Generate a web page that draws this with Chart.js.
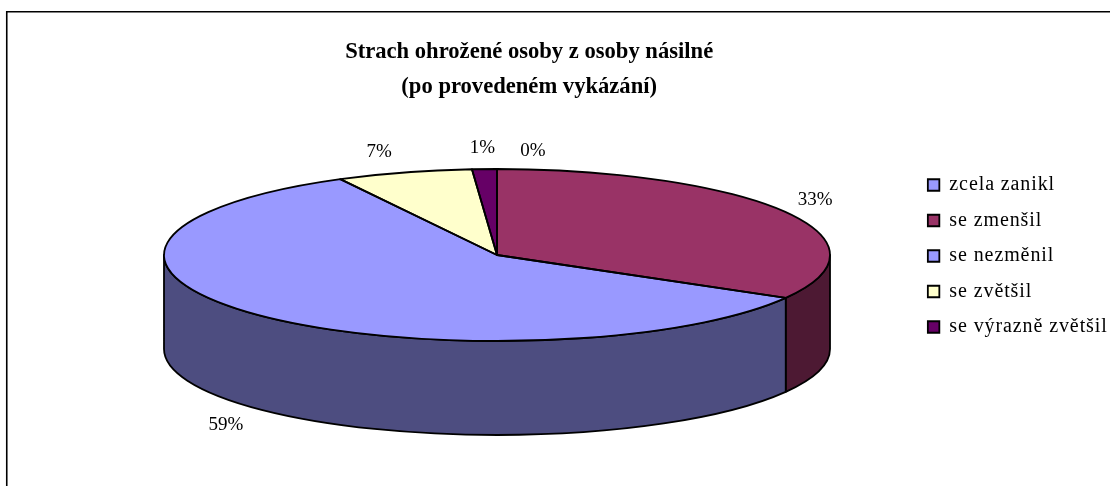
<!DOCTYPE html>
<html><head><meta charset="utf-8">
<style>html,body{margin:0;padding:0;background:#fff;overflow:hidden}canvas{display:block}</style>
<script src="https://cdn.jsdelivr.net/npm/chart.js@4"></script>
</head><body>
<canvas id="c" width="1110" height="486"></canvas>
<script>
const categories = ["zcela zanikl","se zmenšil","se nezměnil","se zvětšil","se výrazně zvětšil"];
const values = [0, 33.3, 58.9, 6.6, 1.2];
const titleLines = ["Strach ohrožené osoby z osoby násilné","(po provedeném vykázání)"];
const topColors = ["#9999FF","#993366","#9999FF","#FFFFCC","#660066"];
const sideColors = ["#4D4D80","#4D1933","#4D4D80","#808066","#330033"];
const labelOffsets = [[36,-18],[30,-12],[-32,16],[-25,-20],[-2,-21]];

const CX=497, CY=255, RX=333, RY=86, DEPTH=94, LW=1.8;
const serif='"Liberation Serif"';

function xf(ctx,a){ ctx.translate(CX,CY); ctx.scale(1,RY/RX); ctx.translate(-a.x,-a.y); }

const pie3d={
  id:'pie3d',
  afterLayout(chart){
    const lg=chart.legend;
    if(!lg._spaced){
      lg.draw=function(){ const c=chart.ctx; c.save(); c.letterSpacing='0.9px'; this._draw(); c.restore(); };
      lg._spaced=true;
    }
  },
  beforeDraw(chart){
    const c=chart.ctx; c.save();
    c.fillStyle='#fff'; c.fillRect(0,0,chart.width,chart.height);
    c.strokeStyle='#000'; c.lineWidth=1.6;
    c.beginPath(); c.moveTo(6.75,chart.height+5); c.lineTo(6.75,11.75); c.lineTo(chart.width+5,11.75); c.stroke();
    c.restore();
  },
  beforeDatasetsDraw(chart){
    const c=chart.ctx, arcs=chart.getDatasetMeta(0).data;
    c.save(); c.lineJoin='round'; c.lineWidth=LW; c.strokeStyle='#000';
    arcs.forEach((a,i)=>{
      const s=Math.max(a.startAngle,0), e=Math.min(a.endAngle,Math.PI);
      if(e<=s) return;
      c.beginPath();
      c.ellipse(CX,CY,RX,RY,0,s,e);
      c.ellipse(CX,CY+DEPTH,RX,RY,0,e,s,true);
      c.closePath();
      c.fillStyle=sideColors[i]; c.fill(); c.stroke();
    });
    c.restore();
    c.save();
    xf(c,arcs[0]);
  },
  afterDatasetsDraw(chart){
    const c=chart.ctx, arcs=chart.getDatasetMeta(0).data;
    c.restore();
    c.save(); c.lineJoin='round'; c.lineWidth=LW; c.strokeStyle='#000';
    arcs.forEach(a=>{
      if(a.endAngle-a.startAngle<=0) return;
      c.beginPath();
      c.moveTo(CX,CY);
      c.ellipse(CX,CY,RX,RY,0,a.startAngle,a.endAngle);
      c.closePath(); c.stroke();
    });
    c.fillStyle='#000'; c.font='19px '+serif; c.textAlign='center'; c.textBaseline='middle';
    arcs.forEach((a,i)=>{
      const m=(a.startAngle+a.endAngle)/2;
      let x=CX+RX*Math.cos(m), y=CY+RY*Math.sin(m);
      if(Math.sin(m)>0 && Math.cos(m)<0.9) y+=DEPTH;
      c.fillText(Math.round(values[i])+'%', x+labelOffsets[i][0], y+labelOffsets[i][1]);
    });
    c.restore();
  }
};

new Chart(document.getElementById('c'),{
  type:'pie',
  data:{labels:categories,datasets:[{data:values,backgroundColor:topColors,borderColor:'#000',borderWidth:0,clip:false,radius:RX}]},
  options:{
    responsive:false,animation:false,events:[],
    layout:{padding:{top:26,left:146,right:8.5,bottom:0}},
    plugins:{
      tooltip:{enabled:false},
      title:{display:true,fullSize:false,text:titleLines,color:'#000',
        font:{family:serif,size:22.6,weight:'bold',lineHeight:35/22.6},padding:{top:9,bottom:0}},
      legend:{position:'right',labels:{
        color:'#000',font:{family:serif,size:20},boxWidth:11.5,boxHeight:11.5,padding:15.5,
        generateLabels(chart){
          return categories.map((t,i)=>({text:t,fillStyle:topColors[i],strokeStyle:'#000',lineWidth:1.8,index:i,hidden:false}));
        }}}
    }
  },
  plugins:[pie3d]
});
</script>
</body></html>
